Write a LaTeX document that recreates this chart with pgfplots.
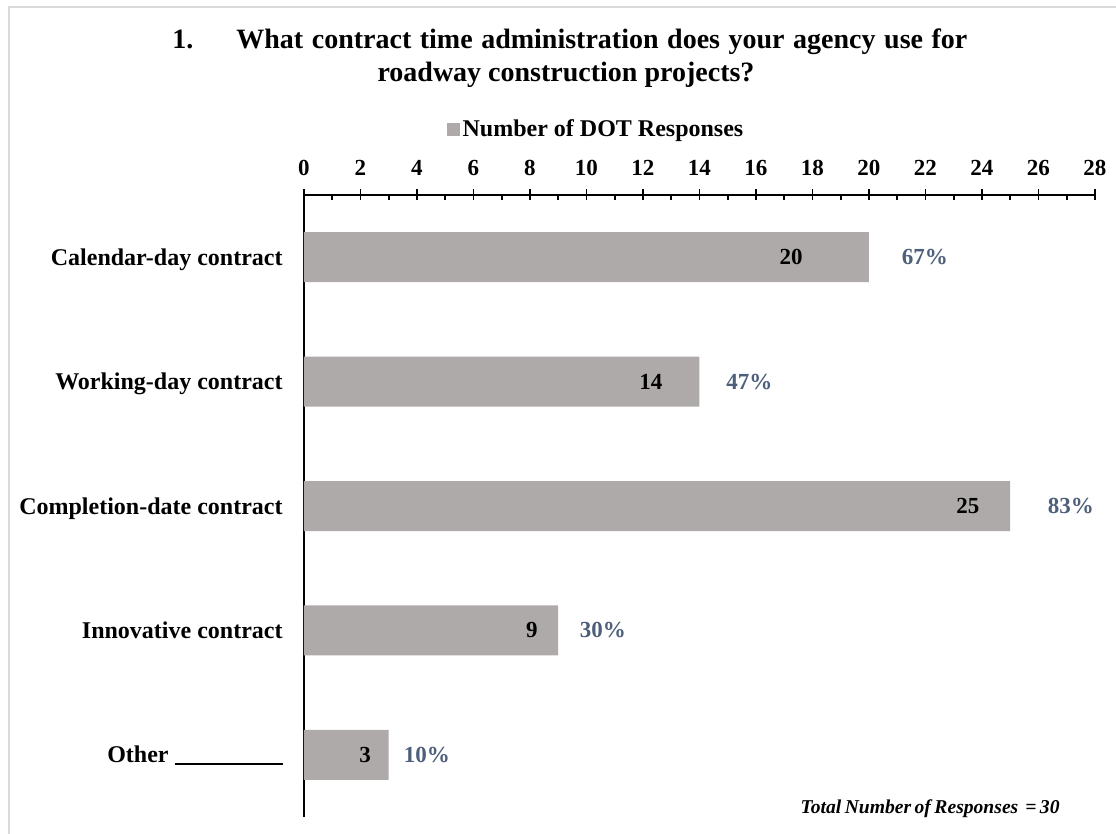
\documentclass[border=0pt]{standalone}
\usepackage{fontspec}
\setmainfont{Liberation Serif}
\usepackage{pgfplots}
\pgfplotsset{compat=1.18}
\definecolor{barcol}{HTML}{AEAAA9}
\definecolor{pctcol}{HTML}{4E5F7B}
\definecolor{framecol}{HTML}{DADADA}
\newcommand\lblfont{\bfseries\fontsize{12}{14}\selectfont}
\newcommand\tickfont{\bfseries\fontsize{11.5}{13}\selectfont}
\newcommand\valfont{\bfseries\fontsize{11.5}{13}\selectfont}
\newcommand\titlefont{\bfseries\fontsize{14}{16}\selectfont}
\begin{document}
\begin{tikzpicture}
\path[use as bounding box] (0pt,0pt) rectangle (558pt,-417pt);
\draw[framecol, line width=1pt] (4.5pt,-417pt) -- (4.5pt,-3.5pt) -- (558pt,-3.5pt);
% title
\node[anchor=base west, inner sep=0pt, font=\titlefont] at (86pt,-24.5pt) {1.};
\node[anchor=base west, inner sep=0pt, font=\titlefont] at (118pt,-24.5pt)
  {\makebox[365.5pt][s]{What contract time administration does your agency use for}};
\node[anchor=base, inner sep=0pt, font=\titlefont] at (283pt,-41pt)
  {roadway construction projects?};
\begin{axis}[
  at={(152pt,-408.5pt)}, anchor=south west,
  scale only axis, width=395.5pt, height=311pt,
  /pgf/number format/assume math mode=true,
  xbar, bar width=25pt, bar shift=0pt,
  xmin=0, xmax=28, ymin=-0.5, ymax=4.5,
  axis x line*=top, axis y line*=left,
  axis line style={black, line width=0.9pt},
  xtick={0,2,...,28}, minor x tick num=1,
  tick align=inside,
  major tick length=5.5pt, minor tick length=2.5pt,
  every major tick/.append style={yshift=3pt},
  tick style={black, line width=0.9pt},
  ytick={0,1,2,3,4},
  ytick style={draw=none},
  yticklabels={{Other\ \rule[-1.2pt]{54pt}{0.9pt}}, Innovative contract, Completion-date contract, Working-day contract, Calendar-day contract},
  xticklabel style={font=\tickfont, anchor=base, inner sep=0pt, yshift=10pt},
  yticklabel style={font=\lblfont, anchor=base east, inner sep=0pt, xshift=-10.5pt, yshift=-4pt},
  legend style={draw=none, fill=none, at={(0.3698,1.1045)}, anchor=center,
    font=\lblfont, inner sep=0pt, nodes={inner sep=1.2pt}},
  legend image code/.code={\fill[barcol] (0pt,-3.25pt) rectangle (6.5pt,3.25pt);},
  clip=false,
]
\addplot[fill=barcol, draw=none] coordinates {(3,0) (9,1) (25,2) (14,3) (20,4)};
\addlegendentry{Number of DOT Responses}
\node[font=\valfont, anchor=center] at (axis cs:17.24,4) {20};
\node[font=\valfont, anchor=center] at (axis cs:12.28,3) {14};
\node[font=\valfont, anchor=center] at (axis cs:23.5,2) {25};
\node[font=\valfont, anchor=center] at (axis cs:8.07,1) {9};
\node[font=\valfont, anchor=center] at (axis cs:2.16,0) {3};
\node[font=\valfont, text=pctcol, anchor=center] at (axis cs:21.98,4) {67\%};
\node[font=\valfont, text=pctcol, anchor=center] at (axis cs:15.77,3) {47\%};
\node[font=\valfont, text=pctcol, anchor=center] at (axis cs:27.15,2) {83\%};
\node[font=\valfont, text=pctcol, anchor=center] at (axis cs:10.58,1) {30\%};
\node[font=\valfont, text=pctcol, anchor=center] at (axis cs:4.35,0) {10\%};
\end{axis}
\node[anchor=base east, inner sep=0pt, font=\bfseries\itshape\fontsize{9.8}{12}\selectfont] at (530pt,-406.5pt)
  {\makebox[129.5pt][s]{Total Number of Responses \ = 30}};
\end{tikzpicture}
\end{document}
